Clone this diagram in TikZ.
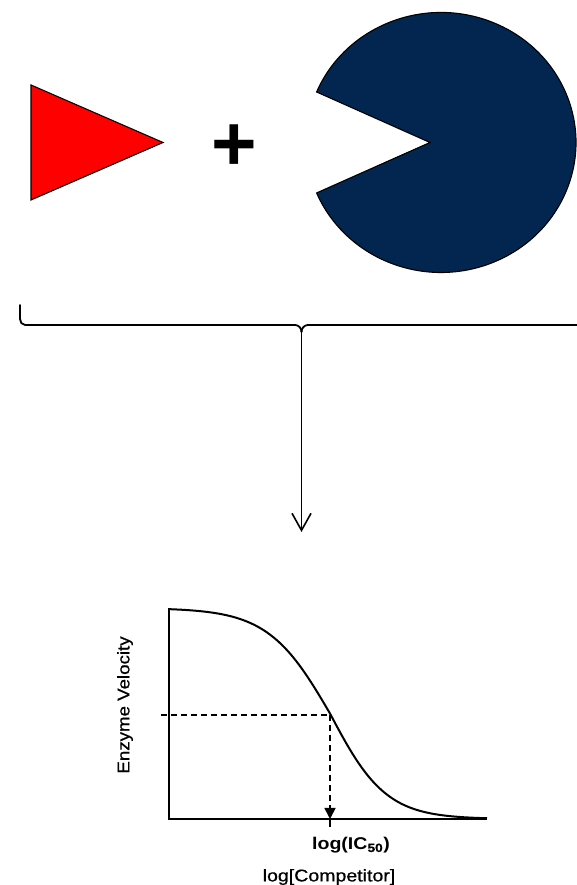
\documentclass[tikz,border=0pt]{standalone}
\usepackage{fontspec}
\setmainfont{Liberation Sans}
\newfontfamily\semibold[FakeBold=0.6]{Liberation Sans}
\usetikzlibrary{arrows.meta,calc}
\definecolor{navyblue}{RGB}{2,38,80}
\definecolor{brightred}{RGB}{255,0,0}
\tikzset{
  shapeline/.style={draw=black,line width=1.1pt},
  bracketline/.style={line width=1.8pt,line cap=round,line join=round},
  axisline/.style={line width=2pt},
  dashline/.style={line width=1.6pt,dash pattern=on 6pt off 4pt},
  lbl/.style={inner sep=0pt,font=\semibold\fontsize{17}{20}\selectfont},
}
\begin{document}
\begin{tikzpicture}[x=1pt,y=1pt]
\useasboundingbox (0,0) rectangle (576,885);
% ligand (triangle)
\filldraw[fill=brightred,shapeline] (31,800) -- (163,742.5) -- (31,685) -- cycle;
\coordinate (ligand) at (75,742.5);
% plus sign
\node[inner sep=0pt,font=\bfseries\fontsize{78}{80}\selectfont] (plus) at (234,737) {+};
% enzyme (pac-man)
\filldraw[fill=navyblue,shapeline] (430,742.5) -- (316.6,793)
  arc[start angle=157.15,end angle=-157.15,x radius=135pt,y radius=130pt] -- cycle;
\coordinate (enzyme) at (441,742.5);
% bracket
\coordinate (cusp) at (301.5,553);
\coordinate (arrowend) at (301.5,353);
\draw[bracketline] (20,580) -- (20,566) to[out=-90,in=180] (25,560) -- (295,560)
  to[out=0,in=90] (cusp) -- (301.5,553);
\draw[bracketline] (cusp) to[out=90,in=180] (308,560) -- (580,560);
\draw[line width=1.6pt,-{Straight Barb[length=17pt,width=19pt,line width=1.6pt]}] (cusp) -- (arrowend);
% plot
\coordinate (origin) at (169,66);
\coordinate (ytop) at (169,277);
\coordinate (xend) at (487,66);
\coordinate (mid) at (330,170);
\coordinate (ic) at (330,66);
\draw[axisline] (ytop) -- (origin) -- (xend);
\draw[line width=2pt] plot[domain=169:487,samples=140,smooth]
  (\x,{885-(608+211/(1+exp(-(\x-330)/(\x<330 ? 31 : 28))))});
\draw[dashline] (161,170) -- (mid);
\draw[dashline,-{Triangle[length=11pt,width=11pt]}] (mid) -- (ic);
\draw[line width=1.6pt] (ic) -- (330,58);
\node[lbl,rotate=90] (ylabel) at (125,180) {\scalebox{1.1}[1]{Enzyme Velocity}};
\node[lbl,font=\bfseries\fontsize{17}{20}\selectfont] (iclabel) at (351,40) {\scalebox{1.15}[1]{log(IC\textsubscript{\semibold 50})}};
\node[lbl] (xlabel) at (329,8) {\scalebox{1.15}[1]{log[Competitor]}};
\end{tikzpicture}
\end{document}
